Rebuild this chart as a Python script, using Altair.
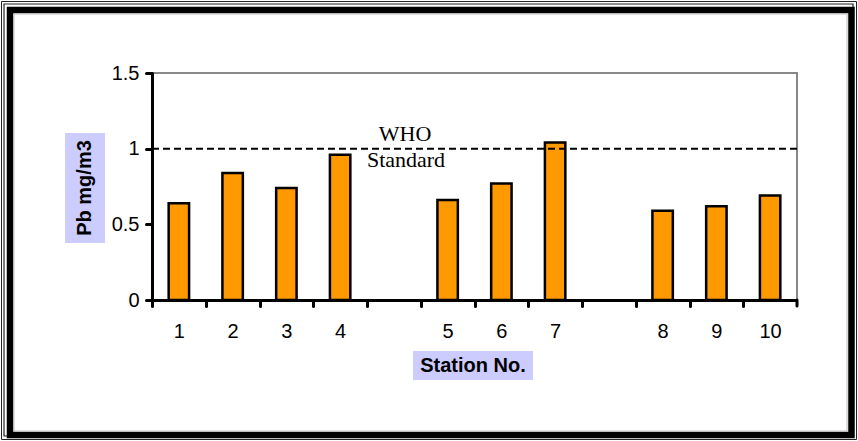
import altair as alt
import pandas as pd

# Lead concentration (mg/m3) measured at each station
STATIONS = ["1", "2", "3", "4", "5", "6", "7", "8", "9", "10"]
PB = [0.64, 0.84, 0.74, 0.96, 0.66, 0.77, 1.04, 0.59, 0.62, 0.69]

# Category slots along the x axis; the "gap" slots separate the station groups
SLOTS = ["1", "2", "3", "4", "gap-a", "5", "6", "7", "gap-b", "8", "9", "10"]

Y_TICKS = [0, 0.5, 1, 1.5]
WHO_LIMIT = 1.0

W, H = 645, 227
LEFT, TOP = 152, 73
PAGE_W, PAGE_H = 858, 441
SLOT_W = W / len(SLOTS)
BAR_W = 0.38 * SLOT_W

bars_df = pd.DataFrame({"station": STATIONS, "pb": PB})
limit_df = pd.DataFrame({"limit": [WHO_LIMIT]})
one = pd.DataFrame({"k": [0]})

FONT = "Liberation Sans"
SERIF = "Liberation Serif"

# Ticks sit on the slot boundaries, labels stay centred under each slot
x_enc = alt.X(
    "station:N",
    scale=alt.Scale(domain=SLOTS, paddingInner=0, paddingOuter=0),
    axis=alt.Axis(
        title=None,
        labelAngle=0,
        tickOffset=-SLOT_W / 2,
        labelOffset=SLOT_W / 2,
        labelExpr="indexof(datum.value, 'gap') >= 0 ? '' : datum.value",
        labelFont=FONT,
        labelFontSize=20,
        labelColor="black",
        labelPadding=15,
        domainColor="black",
        domainWidth=3,
        tickColor="black",
        tickWidth=3,
        tickSize=6,
        tickCap="round",
        zindex=1,
    ),
)

y_enc = alt.Y(
    "pb:Q",
    scale=alt.Scale(domain=[0, 1.5], nice=False),
    axis=alt.Axis(
        title=None,
        values=Y_TICKS,
        labelExpr="datum.value + ''",
        grid=False,
        labelFont=FONT,
        labelFontSize=20,
        labelColor="black",
        labelPadding=7,
        domainColor="black",
        domainWidth=3,
        tickColor="black",
        tickWidth=3,
        tickSize=6,
        tickCap="round",
        zindex=1,
    ),
)

bars = alt.Chart(bars_df).mark_bar(
    fill="#FF9900", stroke="black", strokeWidth=2.5, size=BAR_W,
).encode(x=x_enc, y=y_enc)

# Closing tick at the right end of the category axis
end_tick = alt.Chart(one).mark_rule(color="black", strokeWidth=3, strokeCap="round").encode(
    x=alt.value(W), y=alt.value(H), y2=alt.value(H + 6)
)

limit_rule = alt.Chart(limit_df).mark_rule(
    color="black", strokeWidth=2, strokeDash=[7, 4]
).encode(y="limit:Q")

who_text = alt.Chart(limit_df).mark_text(
    text="WHO", font=SERIF, fontSize=22, color="black",
    align="center", baseline="alphabetic", dy=-8,
).encode(x=alt.value(253), y="limit:Q")

std_text = alt.Chart(limit_df).mark_text(
    text="Standard", font=SERIF, fontSize=22, color="black",
    align="center", baseline="alphabetic", dy=18,
).encode(x=alt.value(254), y="limit:Q")

# Axis title boxes with lavender backgrounds
y_title_box = alt.Chart(one).mark_rect(fill="#CCCCFF").encode(
    x=alt.value(65 - LEFT), x2=alt.value(105 - LEFT),
    y=alt.value(133 - TOP), y2=alt.value(243 - TOP),
)
y_title = alt.Chart(one).mark_text(
    text="Pb mg/m3", font=FONT, fontSize=20, fontWeight="bold", color="black",
    angle=270, align="center", baseline="middle",
).encode(x=alt.value(85 - LEFT), y=alt.value(188 - TOP))

x_title_box = alt.Chart(one).mark_rect(fill="#CCCCFF").encode(
    x=alt.value(413 - LEFT), x2=alt.value(533 - LEFT),
    y=alt.value(351 - TOP), y2=alt.value(380 - TOP),
)
x_title = alt.Chart(one).mark_text(
    text="Station No.", font=FONT, fontSize=20, fontWeight="bold", color="black",
    align="center", baseline="middle",
).encode(x=alt.value(473 - LEFT), y=alt.value(366 - TOP))


# Decorative page frame: thin outer lines, a heavy black border, a faint inner line
def frame(x0, y0, x1, y1, color, width):
    return alt.Chart(one).mark_rect(
        fillOpacity=0, stroke=color, strokeWidth=width
    ).encode(
        x=alt.value(x0 - LEFT), x2=alt.value(x1 - LEFT),
        y=alt.value(y0 - TOP), y2=alt.value(y1 - TOP),
    )


frames = [
    frame(1.5, 1.5, 856.5, 439.5, "#222222", 1),
    frame(4, 4, 853, 436, "#222222", 1.2),
    frame(10, 10, 851.5, 435, "black", 6.5),
    frame(14, 14, 847, 431, "#BBBBBB", 1),
]

chart = alt.layer(
    bars, end_tick, limit_rule, who_text, std_text,
    y_title_box, y_title, x_title_box, x_title,
    *frames,
).properties(
    width=W,
    height=H,
    padding={"left": LEFT, "top": TOP, "right": PAGE_W - LEFT - W, "bottom": PAGE_H - TOP - H},
    autosize=alt.AutoSizeParams(type="none"),
    background="white",
).configure_view(
    stroke="#888888", strokeWidth=2
)

chart.save("out.html", embed_options={"renderer": "svg", "actions": False})
